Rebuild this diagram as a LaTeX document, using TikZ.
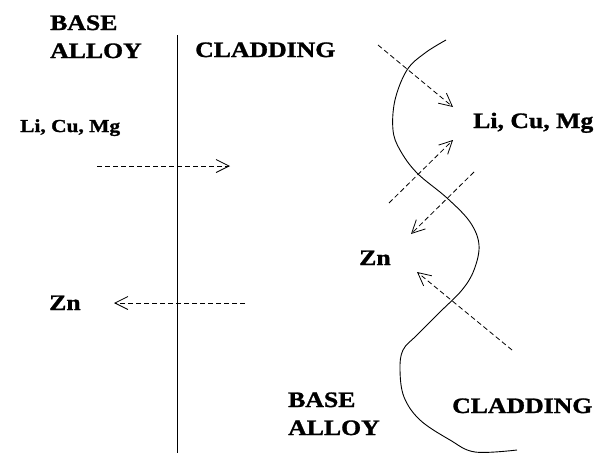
\documentclass[tikz,border=0pt]{standalone}
\usepackage{fontspec}
\setmainfont{Liberation Serif}[FakeStretch=1.17, BoldFeatures={FakeBold=1.3}]
\usetikzlibrary{arrows.meta}
\tikzset{
  lbl/.style={anchor=base west, inner sep=0pt, font=\fontsize{22}{24}\selectfont\bfseries},
  smalllbl/.style={anchor=base west, inner sep=0pt, font=\fontsize{18.3}{20}\selectfont\bfseries},
  diff/.style={dash pattern=on 5pt off 3pt, line width=0.8pt, -{Straight Barb[length=13pt,width=13pt,line width=0.8pt]}},
  bound/.style={line width=0.9pt}
}
\begin{document}
\begin{tikzpicture}[x=1pt,y=-1pt]
\useasboundingbox (0,0) rectangle (607,455);
% labels left
\node[lbl] (base1) at (50,30) {BASE};
\node[lbl] (alloy1) at (50,58) {ALLOY};
\node[lbl] (clad1) at (195,57) {CLADDING};
\node[smalllbl] (licumg1) at (20,132) {Li, Cu, Mg};
\node[lbl] (zn1) at (49,310) {Zn};
% vertical boundary
\coordinate (vtop) at (177,35);
\coordinate (vbot) at (177,453);
\draw[bound] (vtop) -- (vbot);
% left arrows
\coordinate (a1s) at (97,166);
\coordinate (a1e) at (230,166);
\draw[diff] (a1s) -- (a1e);
\coordinate (a2s) at (245,303);
\coordinate (a2e) at (114,303);
\draw[diff] (a2s) -- (a2e);
% right labels
\node[lbl] (licumg2) at (473,128) {Li, Cu, Mg};
\node[lbl] (zn2) at (359,265) {Zn};
\node[lbl] (base2) at (288,407) {BASE};
\node[lbl] (alloy2) at (288,435) {ALLOY};
\node[lbl] (clad2) at (452,413) {CLADDING};
% wavy boundary
\draw[bound] plot[smooth, tension=0.6] coordinates {(446,40) (425,53) (407,70) (395,100) (393,130) (400,150) (417,173) (447,198) (470,222) (479,245) (474,270) (462,290) (440,312) (417,335) (403,350) (400,370) (404,397) (420,420) (450,440) (475,452) (517,450)};
% right arrows
\coordinate (bAs) at (378,45);
\coordinate (bAe) at (453,107);
\draw[diff] (bAs) -- (bAe);
\coordinate (bBs) at (389,203);
\coordinate (bBe) at (453,140);
\draw[diff] (bBs) -- (bBe);
\coordinate (bCs) at (474,172);
\coordinate (bCe) at (411,234);
\draw[diff] (bCs) -- (bCe);
\coordinate (bDs) at (512,350);
\coordinate (bDe) at (417,272);
\draw[diff] (bDs) -- (bDe);
\end{tikzpicture}
\end{document}
